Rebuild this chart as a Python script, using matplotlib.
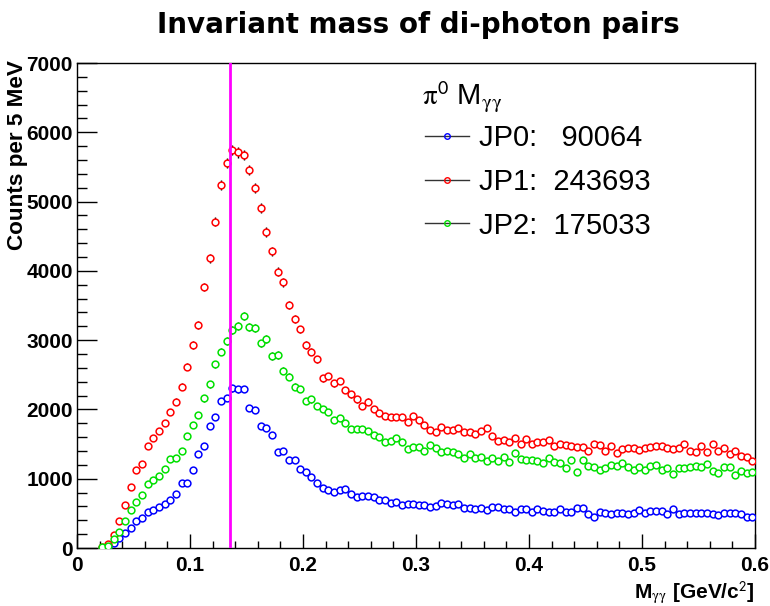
import numpy as np
import matplotlib
matplotlib.use("Agg")
import matplotlib.pyplot as plt
from matplotlib.lines import Line2D
from matplotlib.ticker import MultipleLocator

plt.rcParams['font.family'] = ['Liberation Sans', 'DejaVu Sans']
plt.rcParams['mathtext.fontset'] = 'stix'

# histogram: 5 MeV bins, first filled bin centred at 22.5 MeV
bin_start = 0.0225
bin_width = 0.005

jp0 = [5, 19, 67, 140, 212, 293, 394, 428, 515, 548, 596, 635, 693, 774, 933, 933,
       1125, 1356, 1477, 1760, 1895, 2126, 2169, 2304, 2290, 2294, 2025, 1991, 1760,
       1736, 1631, 1390, 1404, 1270, 1270, 1135, 1101, 1029, 943, 871, 837, 803, 837,
       847, 774, 741, 755, 755, 741, 693, 693, 645, 669, 620, 635, 635, 620, 620, 596,
       611, 654, 635, 620, 635, 572, 582, 558,
       572, 548, 596, 596, 558, 558, 515, 563, 563, 515, 563, 534, 524, 515, 558, 515,
       515, 572, 572, 486, 452, 524, 510, 486, 510, 500, 486, 510, 548, 510, 534, 534,
       534, 486, 558, 486, 510, 510, 510, 510, 510, 486, 476, 510, 510, 500, 486, 452, 452]

jp1 = [8, 53, 188, 390, 620, 885, 1126, 1207, 1472, 1582, 1688, 1799, 1967, 2112, 2328,
       2617, 2929, 3220, 3768, 4184, 4712, 5235, 5559, 5743, 5709, 5671, 5453, 5191,
       4910, 4560, 4285, 3990, 3834, 3507, 3309, 3155, 2929, 2833, 2722, 2448, 2482,
       2376, 2410, 2280, 2217, 2145, 2049, 2112, 2001, 1953, 1910, 1895, 1886, 1895,
       1823, 1905, 1847, 1775, 1703, 1669, 1741, 1703, 1703, 1727, 1669, 1669, 1645,
       1693, 1727, 1616, 1544, 1558, 1534, 1582, 1501, 1573, 1496, 1525, 1534, 1558,
       1477, 1496, 1486, 1477, 1462, 1462, 1400, 1496, 1486, 1405, 1477, 1376, 1424,
       1438, 1448, 1414, 1438, 1462, 1477, 1477, 1438, 1424, 1438, 1501, 1405, 1390,
       1472, 1380, 1496, 1405, 1438, 1352, 1400, 1328, 1318, 1255]

jp2 = [15, 29, 125, 236, 394, 548, 659, 765, 919, 981, 1039, 1140, 1279, 1303, 1405,
       1616, 1775, 1919, 2160, 2362, 2650, 2833, 2992, 3150, 3200, 3355, 3190, 3170,
       2953, 3015, 2771, 2785, 2559, 2472, 2328, 2294, 2126, 2145, 2049, 2006, 1967,
       1847, 1871, 1799, 1712, 1712, 1712, 1693, 1631, 1607, 1525, 1549, 1582, 1525,
       1429, 1462, 1453, 1400, 1486, 1438, 1390, 1400, 1380, 1356, 1303, 1352, 1303,
       1308, 1260, 1294, 1260, 1308, 1246, 1366, 1284, 1270, 1270, 1255, 1231, 1294,
       1246, 1222, 1150, 1270, 1101, 1270, 1183, 1164, 1126, 1159, 1198, 1188, 1222,
       1164, 1126, 1164, 1126, 1183, 1198, 1126, 1150, 1068, 1150, 1150, 1164, 1183,
       1164, 1212, 1116, 1087, 1164, 1174, 1053, 1116, 1077, 1101]

names = ['JP0:   90064', 'JP1:  243693', 'JP2:  175033']
colors = ['#0000ff', '#ff0000', '#00e000']
pi0_mass = 0.135

fig = plt.figure(figsize=(7.7, 6.06), dpi=100)
ax = fig.add_axes([0.1, 0.0957, 0.8805, 0.8003])

for counts, c in zip([jp0, jp1, jp2], colors):
    counts = np.array(counts, dtype=float)
    mass = bin_start + bin_width * np.arange(len(counts))
    ax.errorbar(mass, counts, yerr=np.sqrt(counts), fmt='none', ecolor='black',
                elinewidth=1.0, zorder=2)
    ax.plot(mass, counts, 'o', ms=4.9, mfc='white', mec=c, mew=1.1, zorder=3)

ax.axvline(pi0_mass, color='#ff00ff', lw=2, zorder=4)

ax.set_xlim(0, 0.6)
ax.set_ylim(0, 7000)
ax.xaxis.set_major_locator(MultipleLocator(0.1))
ax.xaxis.set_minor_locator(MultipleLocator(0.02))
ax.yaxis.set_major_locator(MultipleLocator(1000))
ax.yaxis.set_minor_locator(MultipleLocator(200))
ax.xaxis.set_major_formatter(plt.FuncFormatter(lambda v, p: '0' if v == 0 else '%g' % v))
ax.tick_params(axis='x', which='major', direction='in', length=10, width=1, pad=6)
ax.tick_params(axis='x', which='minor', direction='in', length=5, width=1)
ax.tick_params(axis='y', which='major', direction='in', length=14.4, width=1, pad=3)
ax.tick_params(axis='y', which='minor', direction='in', length=7.2, width=1)
for lab in ax.get_xticklabels() + ax.get_yticklabels():
    lab.set_fontweight('bold')
    lab.set_fontsize(15)
for s in ax.spines.values():
    s.set_linewidth(1)

ax.set_ylabel('Counts per 5 MeV', fontsize=16.2, fontweight='bold', loc='top')
ax.yaxis.set_label_coords(-0.073, 1.005)
ax.set_xlabel(r'M$_{\mathrm{\gamma\gamma}}$ [GeV/c$^{\mathsf{2}}$]', fontsize=15,
              fontweight='bold', loc='right')
ax.xaxis.set_label_coords(1.0, -0.065)

# legend header and entries
ax.text(0.509, 0.913, r'$\mathrm{\pi}^{\mathsf{0}}$ M$_{\mathrm{\gamma\gamma}}$',
        fontsize=21, transform=ax.transAxes, ha='left', va='baseline')
handles = [Line2D([], [], color='#333333', lw=1, marker='o', ms=4, mfc='none',
                  mec=c, mew=1) for c in colors]
leg = ax.legend(handles, names, loc='upper left', bbox_to_anchor=(0.513, 0.874),
                frameon=False, fontsize=21, handlelength=1.5,
                handletextpad=0.35, labelspacing=0.54, borderpad=0,
                borderaxespad=0)

fig.text(0.543, 1 - 25 / 606, 'Invariant mass of di-photon pairs',
         fontsize=20, fontweight='bold', family='DejaVu Sans',
         ha='center', va='center')

fig.savefig('out.png', dpi=100)
